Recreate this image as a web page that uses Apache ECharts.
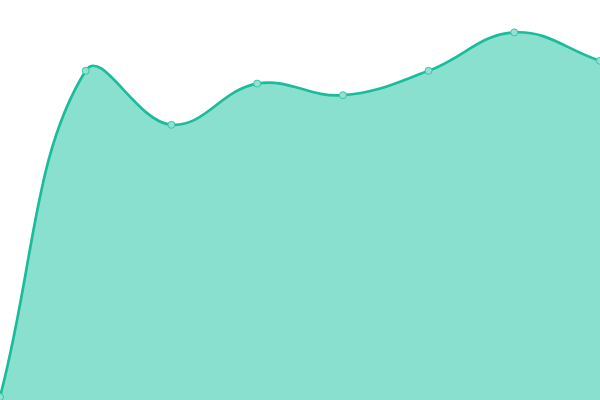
<!DOCTYPE html>
<html>
<head>
<meta charset="UTF-8">
<script src="https://cdn.jsdelivr.net/npm/echarts@6/dist/echarts.min.js"></script>
<style>html,body{margin:0;padding:0;background:#fff}#main{width:600px;height:400px}</style>
</head>
<body>
<div id="main"></div>
<script>
var categories = ['1', '2', '3', '4', '5', '6', '7', '8'];
var values = [0.75, 82.3, 68.8, 79.1, 76.2, 82.3, 91.9, 84.8];

var tension = 0.4;
var lineColor = '#1abc9c';
var fillColor = '#8ae0cf';

// cardinal-like spline through the points, control points capped to the grid
function controlPoints(pts, rect) {
    var clampX = function (v) { return Math.max(rect.x, Math.min(rect.x + rect.width, v)); };
    var clampY = function (v) { return Math.max(rect.y, Math.min(rect.y + rect.height, v)); };
    return pts.map(function (p, i) {
        var prev = pts[i - 1] || p;
        var next = pts[i + 1] || p;
        var d01 = Math.hypot(p[0] - prev[0], p[1] - prev[1]);
        var d12 = Math.hypot(next[0] - p[0], next[1] - p[1]);
        var s01 = d01 / (d01 + d12) || 0;
        var s12 = d12 / (d01 + d12) || 0;
        var fa = tension * s01, fb = tension * s12;
        return {
            prev: [clampX(p[0] - fa * (next[0] - prev[0])), clampY(p[1] - fa * (next[1] - prev[1]))],
            next: [clampX(p[0] + fb * (next[0] - prev[0])), clampY(p[1] + fb * (next[1] - prev[1]))]
        };
    });
}

function curvePath(pts, cps) {
    var d = 'M' + pts[0][0] + ' ' + pts[0][1];
    for (var i = 1; i < pts.length; i++) {
        var a = cps[i - 1].next, b = cps[i].prev, p = pts[i];
        d += ' C' + a[0] + ' ' + a[1] + ' ' + b[0] + ' ' + b[1] + ' ' + p[0] + ' ' + p[1];
    }
    return d;
}

function renderCurve(params, api) {
    if (params.dataIndex !== 0) return null;
    var rect = params.coordSys;
    var pts = values.map(function (v, i) { return api.coord([i, v]); });
    var cps = controlPoints(pts, rect);
    var line = curvePath(pts, cps);
    var base = api.coord([0, 0])[1];
    var last = pts[pts.length - 1];
    var area = line + ' L' + last[0] + ' ' + base + ' L' + pts[0][0] + ' ' + base + ' Z';
    return {
        type: 'group',
        children: [
            { type: 'path', shape: { pathData: area }, style: { fill: fillColor, stroke: null } },
            { type: 'path', shape: { pathData: line }, style: { fill: null, stroke: lineColor, lineWidth: 2.7 } }
        ]
    };
}

var chart = echarts.init(document.getElementById('main'));
chart.setOption({
    animation: false,
    grid: { left: 0, right: 0, top: 0, bottom: 0 },
    xAxis: { type: 'category', data: categories, boundaryGap: false, show: false },
    yAxis: { type: 'value', min: 0, max: 100, show: false },
    series: [{
        type: 'custom',
        renderItem: renderCurve,
        data: values.map(function (v, i) { return [i, v]; }),
        z: 2,
        silent: true
    }, {
        type: 'line',
        data: values,
        symbol: 'circle',
        symbolSize: 7,
        showSymbol: true,
        lineStyle: { width: 0, opacity: 0 },
        itemStyle: { color: '#90e2d2', borderColor: '#3cc4a8', borderWidth: 1 },
        z: 3
    }]
});
</script>
</body>
</html>
